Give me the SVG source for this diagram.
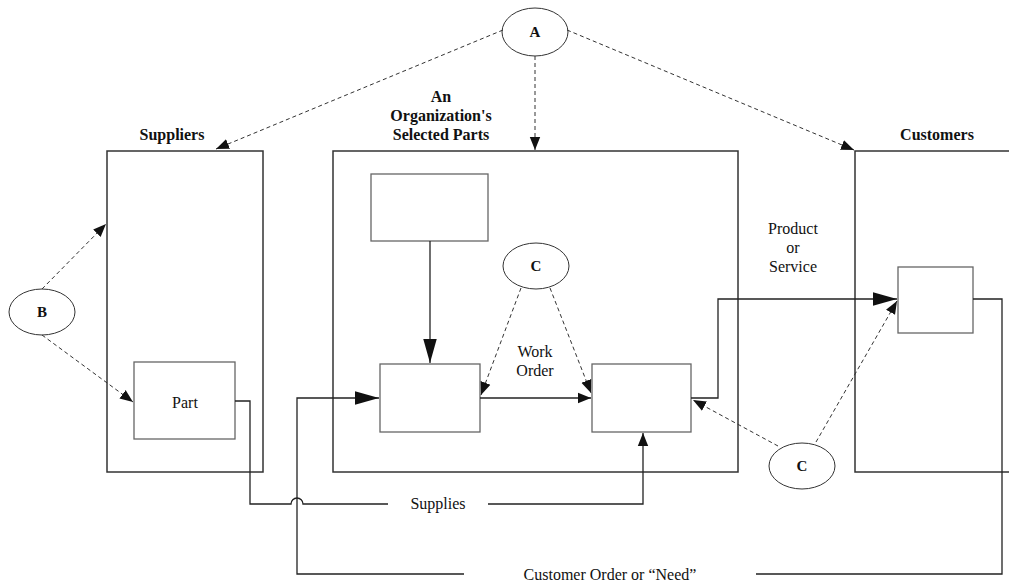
<svg xmlns="http://www.w3.org/2000/svg" width="1009" height="585" viewBox="0 0 1009 585">
  <defs>
    <marker id="arrow" viewBox="0 0 10 10" refX="10" refY="5" markerWidth="13" markerHeight="13" markerUnits="userSpaceOnUse" orient="auto">
      <path d="M0,1 L10,5 L0,9 Z" fill="#111"/>
    </marker>
    <marker id="arrowBig" viewBox="0 0 10 10" refX="10" refY="5" markerWidth="24" markerHeight="24" markerUnits="userSpaceOnUse" orient="auto">
      <path d="M0,2.2 L10,5 L0,7.8 Z" fill="#111"/>
    </marker>
    <style>
      .frame { fill: #fff; stroke: #333; stroke-width: 1.5; }
      .box { fill: #fff; stroke: #666; stroke-width: 1.3; }
      .oval { fill: #fff; stroke: #333; stroke-width: 1; }
      .solid { fill: none; stroke: #222; stroke-width: 1.3; }
      .dash { fill: none; stroke: #333; stroke-width: 1; stroke-dasharray: 4 3; }
      .hd { font-family: "Liberation Serif", "DejaVu Serif", serif; font-size: 16px; font-weight: bold; fill: #111; text-anchor: middle; }
      .lb { font-family: "Liberation Serif", "DejaVu Serif", serif; font-size: 16px; fill: #111; text-anchor: middle; }
      .ov { font-family: "Liberation Serif", "DejaVu Serif", serif; font-size: 15px; font-weight: bold; fill: #111; text-anchor: middle; }
    </style>
  </defs>

  <!-- large frames -->
  <g id="suppliers">
    <rect class="frame" x="107" y="151" width="156" height="321"/>
    <text class="hd" x="172" y="140">Suppliers</text>
  </g>
  <g id="organization">
    <rect class="frame" x="333" y="151" width="405" height="321"/>
    <text class="hd" x="441" y="102">An</text>
    <text class="hd" x="441" y="121">Organization's</text>
    <text class="hd" x="441" y="140">Selected Parts</text>
  </g>
  <g id="customers">
    <path class="frame" d="M1012,151 H855 V472 H1012"/>
    <text class="hd" x="937" y="140">Customers</text>
  </g>

  <!-- inner boxes -->
  <g id="part">
    <rect class="box" x="134" y="362" width="101" height="77"/>
    <text class="lb" x="185" y="408">Part</text>
  </g>
  <g id="org-top">
    <rect class="box" x="371" y="174" width="117" height="67"/>
  </g>
  <g id="org-left">
    <rect class="box" x="380" y="364" width="100" height="68"/>
  </g>
  <g id="org-right">
    <rect class="box" x="592" y="364" width="99" height="68"/>
  </g>
  <g id="customer-box">
    <rect class="box" x="898" y="267" width="75" height="66"/>
  </g>

  <!-- ovals -->
  <g id="oval-a">
    <ellipse class="oval" cx="535" cy="32" rx="33" ry="24"/>
    <text class="ov" x="535" y="37">A</text>
  </g>
  <g id="oval-b">
    <ellipse class="oval" cx="42" cy="312" rx="33" ry="23"/>
    <text class="ov" x="42" y="317">B</text>
  </g>
  <g id="oval-c1">
    <ellipse class="oval" cx="536" cy="266" rx="33" ry="23"/>
    <text class="ov" x="536" y="271">C</text>
  </g>
  <g id="oval-c2">
    <ellipse class="oval" cx="802" cy="466" rx="33" ry="23"/>
    <text class="ov" x="802" y="471">C</text>
  </g>

  <!-- connectors -->
  <g id="connectors">
    <!-- dashed influence arrows -->
    <line class="dash" x1="503" y1="30" x2="216" y2="149" marker-end="url(#arrow)"/>
    <line class="dash" x1="535" y1="56" x2="535" y2="150" marker-end="url(#arrow)"/>
    <line class="dash" x1="567" y1="30" x2="854" y2="150" marker-end="url(#arrow)"/>
    <line class="dash" x1="42" y1="289" x2="106" y2="224" marker-end="url(#arrow)"/>
    <line class="dash" x1="42" y1="335" x2="133" y2="402" marker-end="url(#arrow)"/>
    <line class="dash" x1="521" y1="288" x2="481" y2="395" marker-end="url(#arrow)"/>
    <line class="dash" x1="550" y1="288" x2="591" y2="393" marker-end="url(#arrow)"/>
    <line class="dash" x1="778" y1="446" x2="693" y2="400" marker-end="url(#arrow)"/>
    <line class="dash" x1="816" y1="442" x2="897" y2="301" marker-end="url(#arrow)"/>

    <!-- solid flows -->
    <line class="solid" x1="430" y1="241" x2="430" y2="363" marker-end="url(#arrowBig)"/>
    <line class="solid" x1="480" y1="398" x2="591" y2="398" marker-end="url(#arrow)"/>
    <path class="solid" d="M691,398 H718 V299 H897" marker-end="url(#arrowBig)"/>

    <!-- supplies line with hop over the order line -->
    <path class="solid" d="M235,401 H250 V504 H291 A6,6 0 0 1 303,504 H388"/>
    <path class="solid" d="M488,504 H643 V433" marker-end="url(#arrow)"/>
    <text class="lb" x="438" y="509">Supplies</text>

    <!-- customer order line -->
    <path class="solid" d="M973,299 H1002 V574 H756"/>
    <path class="solid" d="M464,574 H297 V398 H379" marker-end="url(#arrowBig)"/>
    <text class="lb" x="610" y="580">Customer Order or “Need”</text>

    <!-- flow labels -->
    <text class="lb" x="535" y="357">Work</text>
    <text class="lb" x="535" y="376">Order</text>
    <text class="lb" x="793" y="234">Product</text>
    <text class="lb" x="793" y="253">or</text>
    <text class="lb" x="793" y="272">Service</text>
  </g>
</svg>
